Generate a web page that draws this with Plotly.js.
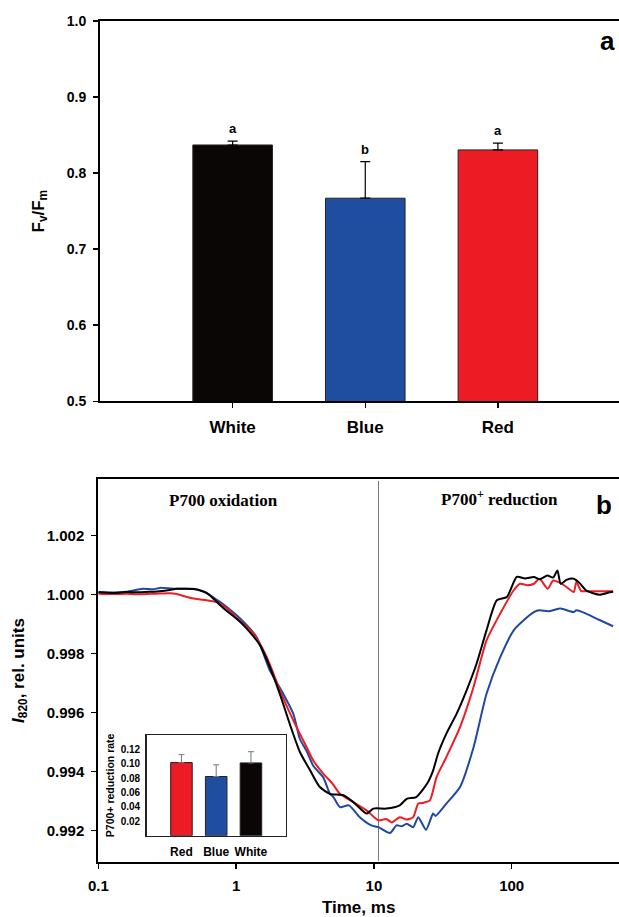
<!DOCTYPE html>
<html><head><meta charset="utf-8">
<script src="https://cdn.plot.ly/plotly-3.0.1.min.js"></script>
<style>html,body{margin:0;padding:0;background:#fff}#chart{width:619px;height:917px}</style>
</head><body><div id="chart"></div>
<script>
// ---- Panel a: Fv/Fm ----
const fvfmCategories = ["White", "Blue", "Red"];
const fvfmMeans = [0.837, 0.767, 0.8305];
const fvfmErrors = [0.005, 0.048, 0.009];
const fvfmLetters = ["a", "b", "a"];
const fvfmColors = ["#0a0606", "#1f4ea1", "#ed1b23"];
const fvfmTicks = [0.5, 0.6, 0.7, 0.8, 0.9, 1.0];

// ---- Panel b: I820 kinetics ----
const timeTicks = [0.1, 1, 10, 100];
const timeTickText = ["0.1", "1", "10", "100"];
const i820Ticks = [0.992, 0.994, 0.996, 0.998, 1.000, 1.002];
const dividerTime = 10.8;

const whiteTime = [0.1,0.13,0.16,0.2,0.24,0.28,0.33,0.37,0.43,0.49,0.55,0.61,0.68,0.76,0.87,1.0,1.19,1.49,1.76,2.08,2.46,2.91,3.45,4.05,4.8,6.0,7.1,8.85,9.9,12.3,15.4,17.3,20.3,24.3,26.9,29.2,33.6,39.9,47.1,55.6,65.7,78,92.3,108.8,125,145,160,181.7,200,214.7,227,250,282,310,346,390,438,505,545];
const whiteI820 = [1.00008,1.00006,1.00009,1.00008,1.0001,1.00012,1.00016,1.0002,1.0002,1.00019,1.00014,1.00006,0.99988,0.99966,0.99942,0.9992,0.99886,0.99829,0.99754,0.99663,0.9956,0.99466,0.99404,0.99348,0.99325,0.9932,0.99297,0.99258,0.99275,0.99275,0.99286,0.99308,0.99314,0.99359,0.99404,0.99461,0.99529,0.99597,0.99676,0.99766,0.99879,0.99981,0.99992,1.0006,1.00055,1.0006,1.00052,1.00065,1.00058,1.00082,1.00037,1.0005,1.00054,1.0004,1.00015,1.00005,1.0,1.00007,1.0001];

const redTime = [0.1,0.13,0.16,0.2,0.24,0.28,0.33,0.37,0.44,0.52,0.61,0.72,0.85,1.02,1.34,1.67,2.08,2.6,3.25,3.63,4.3,5.0,5.67,7.08,8.85,10.8,12.3,13.5,15.4,17.3,19.3,21.0,23.0,25.5,28.5,33.6,42.2,52.9,65.7,82.6,103.5,115,130,145,159,183,200,225,250,282,295,320,346,430,545];
const redI820 = [1.00003,1.00002,1.00003,1.00001,1.00003,1.00004,1.00005,1.00002,0.99992,0.99985,0.99981,0.99975,0.99955,0.99919,0.99868,0.99788,0.99676,0.99574,0.99483,0.99438,0.99393,0.9936,0.99325,0.99297,0.99269,0.99235,0.9924,0.99228,0.99246,0.99238,0.99246,0.99292,0.99295,0.99303,0.99382,0.9945,0.99551,0.99687,0.99845,0.99936,1.00015,1.00037,1.00032,1.00037,1.00054,1.0002,1.00048,1.0004,1.00026,1.00009,1.00043,1.00012,1.00012,1.00012,1.00012];

const blueTime = [0.1,0.13,0.16,0.21,0.25,0.28,0.35,0.49,0.57,0.65,0.75,0.855,1.07,1.41,1.76,2.2,2.6,2.91,3.25,3.63,4.3,4.8,5.07,5.67,6.6,7.9,9.6,10.8,13.1,14.6,16,17.3,19.3,21.0,23.9,26.9,28,33.6,42.2,52.9,65.7,82.6,103.5,130,145,159,185,227,260,282,295,350,430,545];
const blueI820 = [1.00009,1.00007,1.0001,1.0002,1.00018,1.00023,1.0002,1.0002,1.00012,0.99998,0.99978,0.99958,0.99919,0.99856,0.99743,0.99664,0.99597,0.9951,0.9947,0.9942,0.9938,0.99325,0.99315,0.9928,0.99286,0.99246,0.99218,0.99212,0.99192,0.99218,0.99215,0.99224,0.99212,0.99246,0.99203,0.99258,0.9925,0.99292,0.99348,0.99483,0.99664,0.99788,0.99879,0.99924,0.99941,0.99947,0.99944,0.99953,0.99945,0.99941,0.99947,0.99935,0.99915,0.99893];

// ---- Inset: P700+ reduction rate ----
const rateCategories = ["Red", "Blue", "White"];
const rateMeans = [0.1017, 0.0823, 0.1012];
const rateErrors = [0.011, 0.0162, 0.0156];
const rateColors = ["#ed1b23", "#1f4ea1", "#0a0606"];
const rateTicks = [0.02, 0.04, 0.06, 0.08, 0.10, 0.12];

const SANS = "Liberation Sans, Arial, sans-serif";
const SERIF = "Liberation Serif, Times New Roman, serif";
const bold = (size, extra) => Object.assign({family: SANS, size: size, color: "#000", weight: "bold"}, extra || {});

const traces = [
  {type: "bar", x: fvfmCategories, y: fvfmMeans, xaxis: "x", yaxis: "y", width: 0.6,
   marker: {color: fvfmColors, line: {color: "#222", width: 1}},
   error_y: {type: "data", array: fvfmErrors, arrayminus: fvfmErrors.map(() => 0), symmetric: false, color: "#000", thickness: 1.2, width: 5},
   hoverinfo: "skip"},
  {type: "scatter", mode: "lines", x: [dividerTime, dividerTime], y: [0.99098, 1.00385], xaxis: "x2", yaxis: "y2",
   line: {color: "#777", width: 1}, hoverinfo: "skip"},
  {type: "scatter", mode: "lines", x: blueTime, y: blueI820, xaxis: "x2", yaxis: "y2", line: {color: "#2148a0", width: 2, shape: "spline", smoothing: 0.6}, hoverinfo: "skip"},
  {type: "scatter", mode: "lines", x: redTime, y: redI820, xaxis: "x2", yaxis: "y2", line: {color: "#ee1c24", width: 2, shape: "spline", smoothing: 0.6}, hoverinfo: "skip"},
  {type: "scatter", mode: "lines", x: whiteTime, y: whiteI820, xaxis: "x2", yaxis: "y2", line: {color: "#000", width: 2, shape: "spline", smoothing: 0.6}, hoverinfo: "skip"},
  {type: "bar", x: rateCategories, y: rateMeans, xaxis: "x3", yaxis: "y3", width: 0.62,
   marker: {color: rateColors, line: {color: "#222", width: 1}},
   error_y: {type: "data", array: rateErrors, arrayminus: rateErrors.map(() => 0), symmetric: false, color: "#777", thickness: 1, width: 3},
   hoverinfo: "skip"}
];

const W = 619, H = 917;
const dx = (a, b) => [a / W, b / W];
const dy = (top, bottom) => [1 - bottom / H, 1 - top / H];

const annotations = fvfmCategories.map((c, i) => ({
  x: c, y: fvfmMeans[i] + fvfmErrors[i], xref: "x", yref: "y", text: fvfmLetters[i],
  showarrow: false, xanchor: "center", yanchor: "bottom", yshift: 3, font: bold(13)
}));
annotations.push(
  {x: 607 / W, y: 1 - 41 / H, xref: "paper", yref: "paper", text: "a", showarrow: false, xanchor: "center", yanchor: "middle", font: bold(26)},
  {x: 604 / W, y: 1 - 505 / H, xref: "paper", yref: "paper", text: "b", showarrow: false, xanchor: "center", yanchor: "middle", font: bold(26)},
  {x: 223.6 / W, y: 1 - 500.7 / H, xref: "paper", yref: "paper", text: "P700 oxidation", showarrow: false,
   xanchor: "center", yanchor: "middle", font: {family: SERIF, size: 17, color: "#000", weight: "bold"}},
  {x: 499 / W, y: 1 - 498 / H, xref: "paper", yref: "paper", text: "P700<sup>+</sup> reduction", showarrow: false,
   xanchor: "center", yanchor: "middle", font: {family: SERIF, size: 17, color: "#000", weight: "bold"}}
);

const layout = {
  width: W, height: H, margin: {l: 0, r: 0, t: 0, b: 0},
  paper_bgcolor: "#fff", plot_bgcolor: "rgba(0,0,0,0)", showlegend: false, bargap: 0.4,
  font: {family: SANS, color: "#000"},
  xaxis: {domain: dx(100, W), type: "category", range: [-1, 2.913], showline: true, linewidth: 2, linecolor: "#000",
          mirror: true, ticks: "outside", ticklen: 5, tickwidth: 1.5, tickcolor: "#000", showgrid: false, zeroline: false,
          tickfont: bold(17), ticklabelstandoff: 4, fixedrange: true},
  yaxis: {domain: dy(21, 401.3), range: [0.5, 1.0], tickvals: fvfmTicks, tickformat: ".1f", showline: true, linewidth: 2,
          linecolor: "#000", ticks: "outside", ticklen: 5, tickwidth: 1.5, tickcolor: "#000", showgrid: false, zeroline: false,
          tickfont: bold(14), ticklabelstandoff: 4,
          title: {text: "F<sub>v</sub>/F<sub>m</sub>", font: bold(17), standoff: 18}, fixedrange: true},
  xaxis2: {domain: dx(98.3, W), anchor: "y2", type: "log", range: [-1, 2.779], tickvals: timeTicks, ticktext: timeTickText,
           showline: true, linewidth: 2, linecolor: "#000", mirror: true, ticks: "outside", ticklen: 5, tickwidth: 1.5,
           tickcolor: "#000", showgrid: false, zeroline: false, tickfont: bold(15), ticklabelstandoff: 4,
           title: {text: "Time, ms", font: bold(17), standoff: 12}, fixedrange: true},
  yaxis2: {domain: dy(479.3, 861.7), anchor: "x2", range: [0.99095, 1.00391], tickvals: i820Ticks, tickformat: ".3f",
           showline: true, linewidth: 2, linecolor: "#000", ticks: "outside", ticklen: 5, tickwidth: 1.5, tickcolor: "#000",
           showgrid: false, zeroline: false, tickfont: bold(15), ticklabelstandoff: 4,
           title: {text: "<i>I</i><sub>820</sub>, rel. units", font: bold(17), standoff: 18}, fixedrange: true},
  xaxis3: {domain: dx(146.7, 285.7), anchor: "y3", type: "category", range: [-1, 3], showline: true, linewidth: 1.5,
           linecolor: "#222", mirror: true, ticks: "", showgrid: false, zeroline: false, tickfont: bold(12),
           ticklabelstandoff: 4, fixedrange: true},
  yaxis3: {domain: dy(735, 835.7), anchor: "x3", range: [0, 0.14], tickvals: rateTicks, tickformat: ".2f", showline: true,
           linewidth: 1.5, linecolor: "#222", mirror: true, ticks: "", showgrid: false, zeroline: false, tickfont: bold(10),
           ticklabelstandoff: 3, title: {text: "P700+ reduction rate", font: bold(10.5), standoff: 4}, fixedrange: true},
  annotations: annotations
};

Plotly.newPlot("chart", traces, layout, {staticPlot: true, displayModeBar: false});
</script>
</body></html>
